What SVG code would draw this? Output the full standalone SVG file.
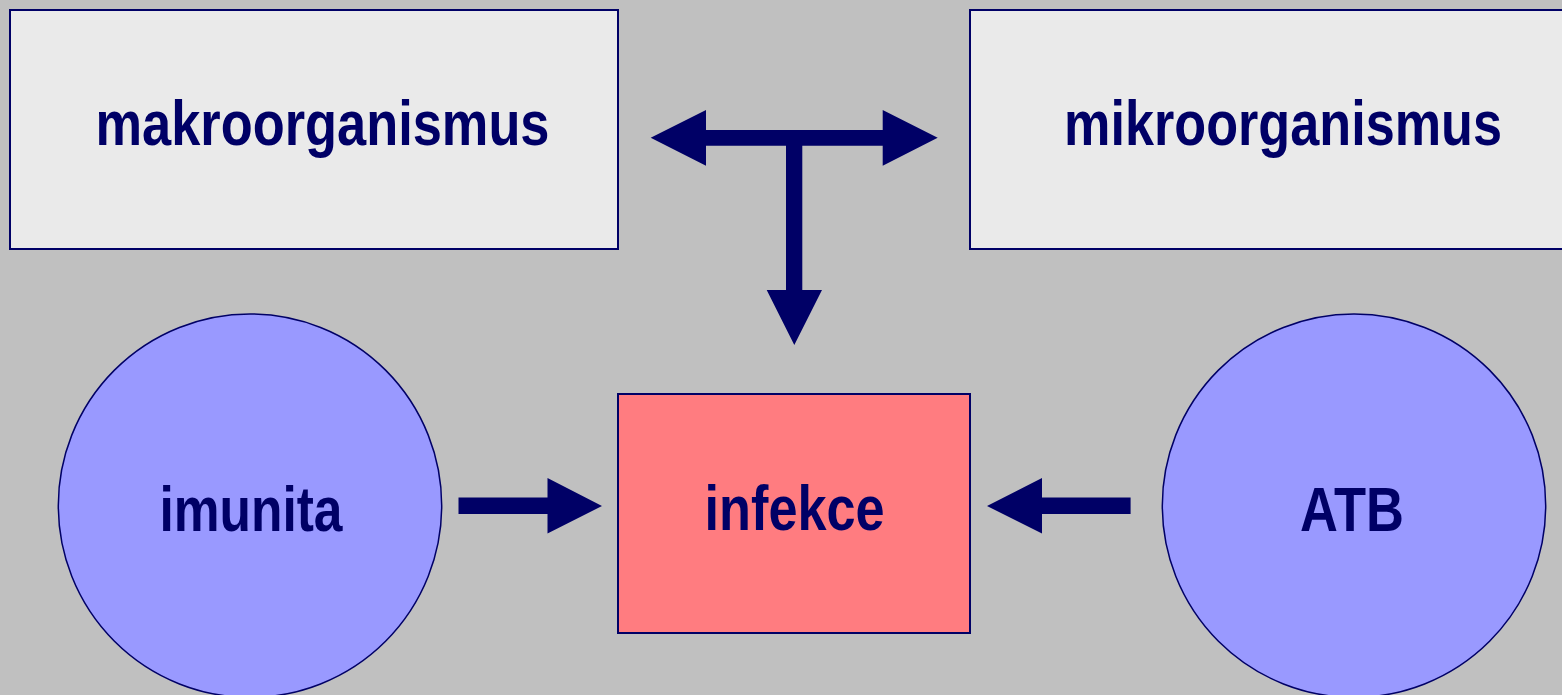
<svg xmlns="http://www.w3.org/2000/svg" width="1562" height="695" viewBox="0 0 1562 695">
<style>
.box{fill:#EAEAEA;stroke:#000066;stroke-width:2}
.circ{fill:#9999FF;stroke:#000066;stroke-width:1.5}
.red{fill:#FF7C80;stroke:#000066;stroke-width:2}
.lbl{font-family:"Liberation Sans",Arial,sans-serif;font-weight:bold;font-size:63px;fill:#000066;text-anchor:middle}
.arr{fill:#000066}
</style>
<rect x="0" y="0" width="1562" height="695" fill="#C0C0C0"/>
<g id="makroorganismus">
<rect class="box" x="10" y="10" width="608" height="239"/>
<text class="lbl" x="322.5" y="145" textLength="454" lengthAdjust="spacingAndGlyphs">makroorganismus</text>
</g>
<g id="mikroorganismus">
<rect class="box" x="970" y="10" width="620" height="239"/>
<text class="lbl" x="1283" y="145" textLength="438" lengthAdjust="spacingAndGlyphs">mikroorganismus</text>
</g>
<g id="imunita">
<circle class="circ" cx="250" cy="505.7" r="191.7"/>
<text class="lbl" x="251" y="530.5" textLength="183" lengthAdjust="spacingAndGlyphs">imunita</text>
</g>
<g id="infekce">
<rect class="red" x="618" y="394" width="352" height="239"/>
<text class="lbl" x="794.6" y="530" textLength="180" lengthAdjust="spacingAndGlyphs">infekce</text>
</g>
<g id="ATB">
<circle class="circ" cx="1354" cy="505.7" r="191.7"/>
<text class="lbl" x="1352" y="530.5" textLength="104" lengthAdjust="spacingAndGlyphs">ATB</text>
</g>
<g id="connectors">
<polygon class="arr" points="650.7,137.8 706,110 706,130 882.7,130 882.7,110 937.7,137.8 882.7,165.7 882.7,145.7 802.3,145.7 802.3,290 822,290 794.3,345 766.7,290 786,290 786,145.7 706,145.7 706,165.7"/>
<polygon class="arr" points="458.5,497.5 547.5,497.5 547.5,478 602,506 547.5,533.5 547.5,514 458.5,514"/>
<polygon class="arr" points="1130.6,497.5 1042,497.5 1042,478 987,506 1042,533.5 1042,514 1130.6,514"/>
</g>
</svg>
